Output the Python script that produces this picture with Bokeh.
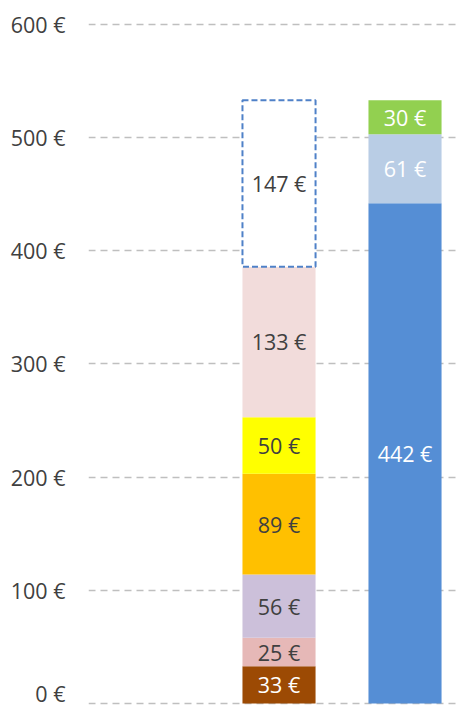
import numpy as np
from bokeh.plotting import figure
from bokeh.models import ColumnDataSource, Range1d, FixedTicker
from bokeh.core.properties import value
from bokeh.embed import file_html
from bokeh.resources import INLINE

# ---- data ----
bar_names = ["costs", "budget"]
cost_values = [33, 25, 56, 89, 50, 133]
cost_colors = ["#9C4A04", "#E6B8B7", "#CCC0DA", "#FFC000", "#FFFF00", "#F2DCDB"]
cost_text_colors = ["#FFFFFF", "#404040", "#404040", "#404040", "#404040", "#404040"]
gap_value = 147
budget_values = [442, 61, 30]
budget_colors = ["#558ED5", "#B9CDE5", "#92D050"]
y_ticks = [0, 100, 200, 300, 400, 500, 600]
y_tick_labels = ["0 €", "100 €", "200 €", "300 €", "400 €", "500 €", "600 €"]

FONT = "Open Sans"
FS = "21.5px"
PX_PER_X = 126.0
X0 = -0.012

p = figure(width=456, height=707, output_backend="svg", toolbar_location=None,
           x_range=Range1d(X0, X0 + 368 / PX_PER_X), y_range=Range1d(-3.53, 621.2),
           min_border_left=88, min_border_right=0, min_border_top=0, min_border_bottom=0)
p.outline_line_color = None
p.xaxis.visible = False
p.xgrid.visible = False
p.ygrid.ticker = FixedTicker(ticks=y_ticks)
p.ygrid.grid_line_color = "#BFBFBF"
p.ygrid.grid_line_dash = "7 5"
p.ygrid.grid_line_width = 1.5

ya = p.yaxis[0]
ya.ticker = FixedTicker(ticks=y_ticks)
ya.major_label_overrides = {t: l for t, l in zip(y_ticks, y_tick_labels)}
ya.axis_line_color = None
ya.major_tick_line_color = None
ya.minor_tick_line_color = None
ya.major_label_standoff = 17
ya.major_label_text_font = FONT
ya.major_label_text_font_size = FS
ya.major_label_text_color = "#404040"

bar_x = {name: i + 1.5 for i, name in enumerate(bar_names)}
W = 0.58

# costs stack
c = np.array(cost_values, dtype=float)
tops = np.cumsum(c)
bots = tops - c
src_c = ColumnDataSource(dict(x=[bar_x["costs"]] * len(c), top=tops, bottom=bots,
                              color=cost_colors, ymid=(tops + bots) / 2,
                              label=[f"{int(v)} €" for v in c], tc=cost_text_colors))
p.vbar(x="x", top="top", bottom="bottom", width=W, fill_color="color", line_color=None, source=src_c)
p.text(x="x", y="ymid", text="label", text_color="tc", text_align="center", text_baseline="middle",
       text_font=value(FONT), text_font_size=FS, source=src_c)

# gap box
g_bot = tops[-1]
g_top = g_bot + gap_value
p.vbar(x=[bar_x["costs"]], top=[g_top], bottom=[g_bot], width=W, fill_color="white",
       line_color="#4F81C8", line_dash="6 3", line_width=2)
p.text(x=[bar_x["costs"]], y=[(g_top + g_bot) / 2], text=[f"{gap_value} €"], text_color="#404040",
       text_align="center", text_baseline="middle", text_font=value(FONT), text_font_size=FS)

# budget stack
b = np.array(budget_values, dtype=float)
btops = np.cumsum(b)
bbots = btops - b
src_b = ColumnDataSource(dict(x=[bar_x["budget"]] * len(b), top=btops, bottom=bbots,
                              color=budget_colors, ymid=(btops + bbots) / 2,
                              label=[f"{int(v)} €" for v in b]))
p.vbar(x="x", top="top", bottom="bottom", width=W, fill_color="color", line_color=None, source=src_b)
p.text(x="x", y="ymid", text="label", text_color="white", text_align="center", text_baseline="middle",
       text_font=value(FONT), text_font_size=FS, source=src_b)

open("out.html", "w").write(file_html(p, INLINE))
